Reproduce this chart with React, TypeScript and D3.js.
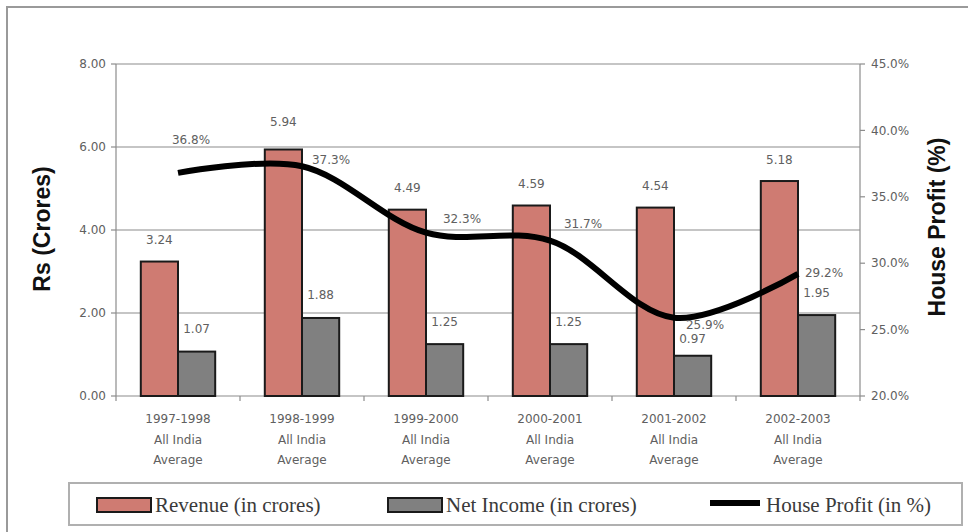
import React from "react";
import * as d3 from "d3";

// Financial years shown along the x axis
const years = ["1997-1998", "1998-1999", "1999-2000", "2000-2001", "2001-2002", "2002-2003"];
const subLabels = ["All India", "Average"];

// Revenue and net income in Rs crores
const revenue = [3.24, 5.94, 4.49, 4.59, 4.54, 5.18];
const netIncome = [1.07, 1.88, 1.25, 1.25, 0.97, 1.95];
// House profit in percent
const houseProfit = [36.8, 37.3, 32.3, 31.7, 25.9, 29.2];

// Axis ticks
const leftTicks = [0, 2, 4, 6, 8];
const rightTicks = [20, 25, 30, 35, 40, 45];

// Label placement tweaks (pixels)
const revLabelLift = [22, 28, 22, 22, 22, 21];
const netLabelLift = [23, 23, 22, 22, 17, 22];
const pctLabelOffset: [number, number][] = [
  [13, -33],
  [29, -6],
  [36, -14],
  [33, -17],
  [31, 7],
  [26, -1],
];

const W = 968;
const H = 532;
const M = { left: 116, right: 860, top: 64, bottom: 396 };

const REV_FILL = "#cf7b72";
const NET_FILL = "#808080";
const AXIS = "#8c8c8c";
const TXT = "#606060";
const SMALL_FONT = "'DejaVu Sans', sans-serif";

export default function App() {
  const x0 = d3.scaleBand<string>().domain(years).range([M.left, M.right]).padding(0);
  const bw = x0.bandwidth();
  const x1 = d3
    .scaleBand<string>()
    .domain(["rev", "net"])
    .range([bw * 0.2, bw * 0.8])
    .padding(0);
  const yL = d3.scaleLinear().domain([0, 8]).range([M.bottom, M.top]);
  const yR = d3.scaleLinear().domain([20, 45]).range([M.bottom, M.top]);

  const cx = (i: number) => (x0(years[i]) as number) + bw / 2;
  const pts: [number, number][] = houseProfit.map((v, i) => [cx(i), yR(v)]);
  const line = d3.line().curve(d3.curveCatmullRom.alpha(0.5))(pts) || "";

  const boundaries = d3.range(years.length + 1).map((i) => M.left + i * bw);

  return (
    <svg
      width={W}
      height={H}
      style={{ position: "absolute", left: 0, top: 0, background: "#fff" }}
    >
      {/* outer frame */}
      <rect x={7} y={7} width={W + 10} height={H + 10} fill="none" stroke="#9a9a9a" strokeWidth={2} />

      {/* horizontal gridlines */}
      {leftTicks.slice(1).map((t) => (
        <line key={"g" + t} x1={M.left} x2={M.right} y1={yL(t)} y2={yL(t)} stroke={AXIS} strokeWidth={1.2} />
      ))}

      {/* axes lines */}
      <line x1={M.left} x2={M.left} y1={M.top} y2={M.bottom} stroke={AXIS} strokeWidth={1.2} />
      <line x1={M.right} x2={M.right} y1={M.top} y2={M.bottom} stroke={AXIS} strokeWidth={1.2} />
      <line x1={M.left} x2={M.right} y1={M.bottom} y2={M.bottom} stroke={AXIS} strokeWidth={1.2} />

      {/* left ticks */}
      {leftTicks.map((t) => (
        <g key={"l" + t}>
          <line x1={M.left - 5} x2={M.left} y1={yL(t)} y2={yL(t)} stroke={AXIS} strokeWidth={1.2} />
          <text
            x={M.left - 10}
            y={yL(t)}
            dy="0.35em"
            textAnchor="end"
            fontFamily={SMALL_FONT}
            fontSize={12}
            fill={TXT}
          >
            {t.toFixed(2)}
          </text>
        </g>
      ))}

      {/* right ticks */}
      {rightTicks.map((t) => (
        <g key={"r" + t}>
          <line x1={M.right} x2={M.right + 5} y1={yR(t)} y2={yR(t)} stroke={AXIS} strokeWidth={1.2} />
          <text
            x={M.right + 11}
            y={yR(t)}
            dy="0.35em"
            textAnchor="start"
            fontFamily={SMALL_FONT}
            fontSize={12}
            fill={TXT}
          >
            {t.toFixed(1) + "%"}
          </text>
        </g>
      ))}

      {/* x ticks at category boundaries */}
      {boundaries.map((b, i) => (
        <line key={"xt" + i} x1={b} x2={b} y1={M.bottom} y2={M.bottom + 5} stroke={AXIS} strokeWidth={1.2} />
      ))}

      {/* category labels */}
      {years.map((yr, i) => (
        <g key={"c" + yr} fontFamily={SMALL_FONT} fontSize={12} fill={TXT} textAnchor="middle">
          <text x={cx(i)} y={419} dy="0.35em">
            {yr}
          </text>
          {subLabels.map((s, j) => (
            <text key={s} x={cx(i)} y={440 + j * 20} dy="0.35em">
              {s}
            </text>
          ))}
        </g>
      ))}

      {/* bars */}
      {years.map((yr, i) => {
        const gx = x0(yr) as number;
        const rx = gx + (x1("rev") as number);
        const nx = gx + (x1("net") as number);
        const w = x1.bandwidth();
        return (
          <g key={"b" + yr}>
            <rect
              x={rx}
              y={yL(revenue[i])}
              width={w}
              height={yL(0) - yL(revenue[i])}
              fill={REV_FILL}
              stroke="#1a1a1a"
              strokeWidth={2}
            />
            <rect
              x={nx}
              y={yL(netIncome[i])}
              width={w}
              height={yL(0) - yL(netIncome[i])}
              fill={NET_FILL}
              stroke="#1a1a1a"
              strokeWidth={2}
            />
            <text
              x={rx + w / 2}
              y={yL(revenue[i]) - revLabelLift[i]}
              dy="0.35em"
              textAnchor="middle"
              fontFamily={SMALL_FONT}
              fontSize={12}
              fill={TXT}
            >
              {revenue[i].toFixed(2)}
            </text>
            <text
              x={nx + w / 2}
              y={yL(netIncome[i]) - netLabelLift[i]}
              dy="0.35em"
              textAnchor="middle"
              fontFamily={SMALL_FONT}
              fontSize={12}
              fill={TXT}
            >
              {netIncome[i].toFixed(2)}
            </text>
          </g>
        );
      })}

      {/* house profit line */}
      <path d={line} fill="none" stroke="#000" strokeWidth={6} strokeLinejoin="round" strokeLinecap="butt" />
      {houseProfit.map((v, i) => (
        <text
          key={"p" + i}
          x={pts[i][0] + pctLabelOffset[i][0]}
          y={pts[i][1] + pctLabelOffset[i][1]}
          dy="0.35em"
          textAnchor="middle"
          fontFamily={SMALL_FONT}
          fontSize={12}
          fill={TXT}
        >
          {v.toFixed(1) + "%"}
        </text>
      ))}

      {/* axis titles */}
      <text
        transform={`translate(42, 229) rotate(-90)`}
        textAnchor="middle"
        dy="0.35em"
        fontFamily="'Liberation Sans', Arial, sans-serif"
        fontWeight="bold"
        fontSize={23}
        fill="#111"
      >
        Rs (Crores)
      </text>
      <text
        transform={`translate(937, 227) rotate(-90)`}
        textAnchor="middle"
        dy="0.35em"
        fontFamily="'Liberation Sans', Arial, sans-serif"
        fontWeight="bold"
        fontSize={23}
        fill="#111"
      >
        House Profit (%)
      </text>

      {/* legend */}
      <rect x={69} y={483} width={893} height={42} fill="#fff" stroke="#b0b0b0" strokeWidth={2} />
      <g fontFamily="'Liberation Serif', 'Times New Roman', serif" fontSize={21} fill="#3a3a3a">
        <rect x={97} y={498} width={54} height={14} fill={REV_FILL} stroke="#1a1a1a" strokeWidth={2} />
        <text x={155} y={505} dy="0.35em">
          Revenue (in crores)
        </text>
        <rect x={388} y={498} width={54} height={14} fill={NET_FILL} stroke="#1a1a1a" strokeWidth={2} />
        <text x={446} y={505} dy="0.35em">
          Net Income (in crores)
        </text>
        <line x1={710} x2={760} y1={503} y2={503} stroke="#000" strokeWidth={6} />
        <text x={766} y={505} dy="0.35em">
          House Profit (in %)
        </text>
      </g>
    </svg>
  );
}
